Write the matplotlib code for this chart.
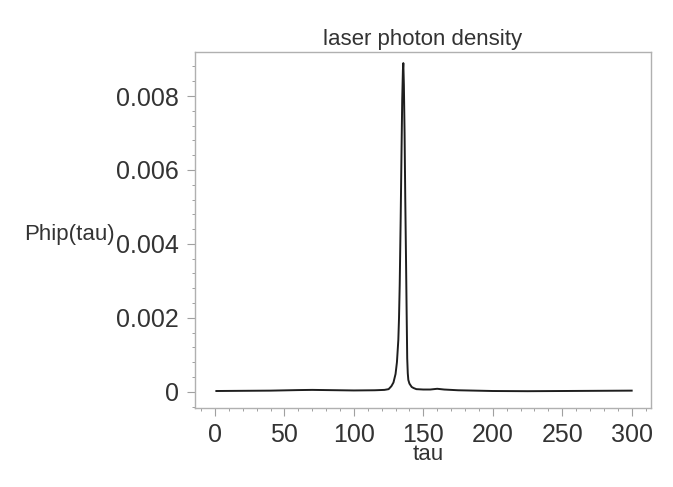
import matplotlib
matplotlib.use('Agg')
import matplotlib.pyplot as plt
from matplotlib.ticker import MultipleLocator, AutoMinorLocator

# photon density pulse
tau = [1, 20, 40, 60, 70, 80, 100, 115, 122, 125, 127, 128.5, 130, 131, 132,
       132.5, 133, 133.7, 134.3, 134.8, 135.3, 135.6, 136, 136.5, 137, 137.5,
       138, 138.4, 138.8, 139.2, 140, 141.6, 143, 145, 150, 155, 160, 165,
       175, 200, 225, 250, 275, 300]
phip = [0.00002, 0.000025, 0.00003, 0.000045, 0.00005, 0.000045, 0.000035,
        0.00004, 0.00005, 0.00007, 0.00015, 0.00025, 0.00048, 0.0008, 0.0014,
        0.002, 0.0029, 0.0047, 0.0065, 0.0079, 0.0087, 0.00889, 0.0083,
        0.007, 0.0052, 0.0037, 0.0021, 0.0009, 0.0005, 0.00032, 0.00022,
        0.00013, 0.0001, 0.00007, 0.00006, 0.00006, 0.00008, 0.00006,
        0.00004, 0.00002, 0.000015, 0.00002, 0.000025, 0.00003]

xticks = [0, 50, 100, 150, 200, 250, 300]
yticks = [0, 0.002, 0.004, 0.006, 0.008]
ytick_labels = ['0', '0.002', '0.004', '0.006', '0.008']

plt.rcParams['font.family'] = ['Liberation Sans', 'DejaVu Sans']

fig = plt.figure(figsize=(6.73, 4.87), dpi=100)
ax = fig.add_axes([0.2897, 0.1622, 0.6776, 0.731])

ax.plot(tau, phip, color='#1e1e1e', linewidth=1.4)

ax.set_xlim(-14.4, 313.9)
ax.set_ylim(-0.00044, 0.00919)

ax.set_xticks(xticks)
ax.set_xticklabels([str(t) for t in xticks])
ax.set_yticks(yticks)
ax.set_yticklabels(ytick_labels)
ax.xaxis.set_minor_locator(MultipleLocator(10))
ax.yaxis.set_minor_locator(AutoMinorLocator(5))

for s in ax.spines.values():
    s.set_color('#b0b0b0')
    s.set_linewidth(1.0)

ax.tick_params(which='major', direction='out', length=5.5, width=0.8,
               color='#a0a0a0', labelsize=18, labelcolor='#333333')
ax.tick_params(axis='x', which='major', pad=5)
ax.tick_params(axis='y', which='major', pad=6)
ax.tick_params(which='minor', direction='out', length=2.5, width=0.7,
               color='#a0a0a0')
ax.tick_params(top=False, right=False, which='both')

ax.set_title('laser photon density', fontsize=16, color='#333333', pad=5)
ax.set_xlabel('tau', fontsize=16, color='#333333', va='center')
ax.xaxis.set_label_coords(0.511, -0.13)
ax.set_ylabel('Phip(tau)', fontsize=16, color='#333333', rotation=0,
              ha='center', va='center')
ax.yaxis.set_label_coords(-0.276, 0.486)

plt.savefig('out.png', dpi=100)
plt.close()
